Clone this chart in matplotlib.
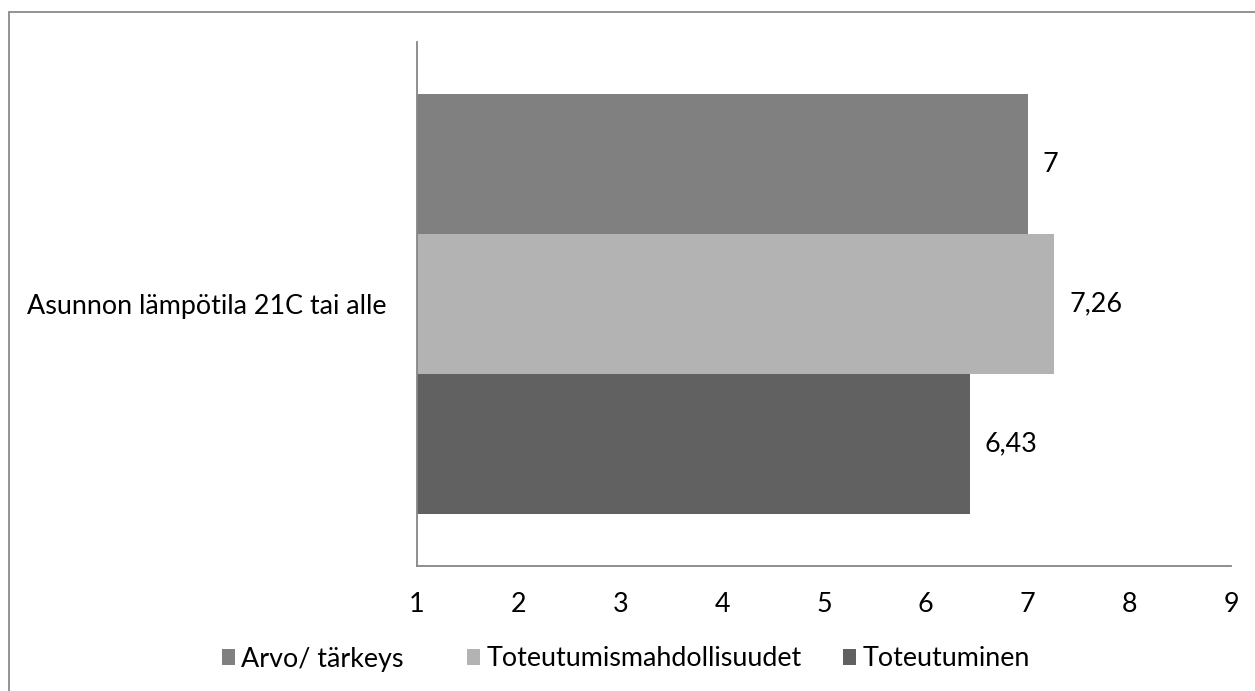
import matplotlib
matplotlib.use("Agg")
import matplotlib.pyplot as plt
from matplotlib.patches import Patch, Rectangle

category = "Asunnon lämpötila 21C tai alle"
series_names = ["Arvo/ tärkeys", "Toteutumismahdollisuudet", "Toteutuminen"]
values = [7, 7.26, 6.43]
colors = ["#808080", "#b3b3b3", "#616161"]
x_ticks = [1, 2, 3, 4, 5, 6, 7, 8, 9]

plt.rcParams['font.family'] = ['Lato', 'DejaVu Sans']
FS = 19.4

W, H = 1255, 691
fig = plt.figure(figsize=(W / 100, H / 100), dpi=100)

# outer chart border (only left/top visible in the reference)
fig.patches.append(Rectangle((9 / W, -0.1), 1.2, 1 - 12 / H + 0.1,
                             transform=fig.transFigure, fill=False,
                             edgecolor="#8a8a8a", linewidth=1.3, zorder=0))

ax = fig.add_axes([417 / W, 1 - 566 / H, (1231 - 417) / W, (566 - 42) / H])

bh = 0.267
offsets = [bh, 0, -bh]
for name, v, c, off in zip(series_names, values, colors, offsets):
    ax.barh(off, v - 1, left=1, height=bh, color=c, edgecolor="none", label=name)
    lab = f"{v:g}".replace(".", ",")
    ax.annotate(lab, (v, off), xytext=(11, 0), textcoords="offset points",
                va="center", ha="left", fontsize=FS, color="black")

ax.set_xlim(1, 9)
ax.set_ylim(-0.5, 0.5)
ax.set_xticks(x_ticks)
ax.set_xticklabels([str(t) for t in x_ticks], fontsize=FS)
ax.set_yticks([0])
ax.set_yticklabels([category], fontsize=FS)
ax.tick_params(axis="x", length=0, pad=19)
ax.tick_params(axis="y", length=0, pad=22)
for s in ["top", "right"]:
    ax.spines[s].set_visible(False)
for s in ["left", "bottom"]:
    ax.spines[s].set_color("#868686")
    ax.spines[s].set_linewidth(1.3)

# legend entries placed like the Excel legend (uneven column widths)
legend_x = [222, 467, 843]
for name, c, lx in zip(series_names, colors, legend_x):
    leg = fig.legend([Patch(facecolor=c, edgecolor="none")], [name],
                     loc="center left", bbox_to_anchor=(lx / W, 1 - 659 / H),
                     frameon=False, fontsize=FS, handlelength=0.5, handleheight=0.55,
                     handletextpad=0.22, borderpad=0, borderaxespad=0)

fig.savefig("out.png", dpi=100)
